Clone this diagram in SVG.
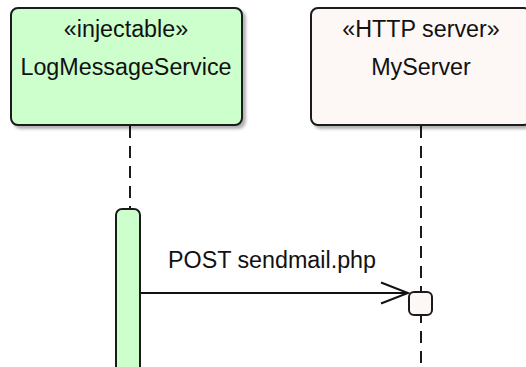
<svg xmlns="http://www.w3.org/2000/svg" width="526" height="367" viewBox="0 0 526 367">
  <defs>
    <filter id="shadow" x="-10%" y="-10%" width="125%" height="130%">
      <feDropShadow dx="3" dy="3" stdDeviation="1.4" flood-color="#000" flood-opacity="0.3"/>
    </filter>
    <marker id="open-arrow" markerWidth="30" markerHeight="24" refX="28" refY="12" orient="auto" markerUnits="userSpaceOnUse">
      <path d="M1,1.5 L28,12 L1,22.5" fill="none" stroke="#111" stroke-width="2"/>
    </marker>
  </defs>
  <style>
    .box { stroke: #1a1a1a; stroke-width: 2; }
    .green { fill: #ccffcc; }
    .cream { fill: #fdf8f5; }
    .lifeline { stroke: #1a1a1a; stroke-width: 2; stroke-dasharray: 12 8; fill: none; }
    .label { font-family: "Liberation Sans", Arial, sans-serif; font-size: 23.3px; fill: #111; text-anchor: middle; }
    .msg { stroke: #111; stroke-width: 2; fill: none; }
  </style>

  <rect width="526" height="367" fill="#ffffff"/>

  <!-- lifelines and message -->
  <g id="connectors">
    <line class="lifeline" x1="130" y1="126" x2="130" y2="209"/>
    <line class="lifeline" x1="421" y1="126" x2="421" y2="292"/>
    <line class="lifeline" x1="421" y1="315" x2="421" y2="367" stroke-dashoffset="4"/>
    <line class="msg" x1="140" y1="293" x2="408" y2="293" marker-end="url(#open-arrow)"/>
    <text class="label" x="272" y="268">POST sendmail.php</text>
  </g>

  <!-- LogMessageService participant -->
  <g id="logMessageService">
    <rect class="box green" x="11" y="8" width="231" height="117" rx="7" filter="url(#shadow)"/>
    <text class="label" x="126" y="37">«injectable»</text>
    <text class="label" x="126" y="75">LogMessageService</text>
  </g>

  <!-- MyServer participant -->
  <g id="myServer">
    <rect class="box cream" x="311" y="8" width="220" height="117" rx="7" filter="url(#shadow)"/>
    <text class="label" x="421" y="37">«HTTP server»</text>
    <text class="label" x="421" y="75">MyServer</text>
  </g>

  <!-- activation on LogMessageService -->
  <g id="logMessageServiceActivation">
    <rect class="box green" x="116" y="209" width="24" height="170" rx="6"/>
  </g>

  <!-- activation on MyServer -->
  <g id="myServerActivation">
    <rect class="box cream" x="409" y="292" width="23" height="23" rx="5"/>
  </g>
</svg>
